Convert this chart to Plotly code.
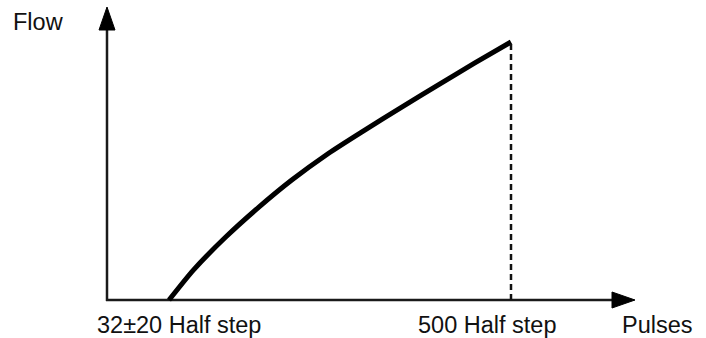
import plotly.graph_objects as go

# Data: pulses in half steps, flow in % of max
pulses = [32, 65, 110, 155, 200, 250, 295, 355, 400, 450, 500]
flow = [0, 11.5, 24.5, 36, 46.5, 56.8, 65, 75.5, 83.3, 91.8, 100]
tick_vals = [32, 500]
tick_labels = ["32\u00b120 Half step", "500 Half step"]
x_title = "Pulses"
y_title = "Flow"
max_pulse = 500
max_flow = 100

W, H = 706, 338
FONT = dict(family="Liberation Sans, Arial, sans-serif", size=23.5, color="#111111")
LABEL_SHIFTS = [10, -24]

fig = go.Figure()

# curve
fig.add_trace(go.Scatter(
    x=pulses, y=flow, mode="lines",
    line=dict(color="#000000", width=5, shape="spline", smoothing=0.6),
    hoverinfo="skip", showlegend=False,
))
# dashed limit
fig.add_trace(go.Scatter(
    x=[max_pulse, max_pulse], y=[0, max_flow], mode="lines",
    line=dict(color="#111111", width=2.5, dash="6px,4px"),
    hoverinfo="skip", showlegend=False,
))


def px(x):
    return x / W


def py(y):
    return 1 - y / H


axis_col = "#1a1a1a"
# y axis line
fig.add_shape(type="line", xref="paper", yref="paper",
              x0=px(107), y0=py(301), x1=px(107), y1=py(25),
              line=dict(color=axis_col, width=2.5), layer="below")
# x axis line
fig.add_shape(type="line", xref="paper", yref="paper",
              x0=px(106), y0=py(300), x1=px(615), y1=py(300),
              line=dict(color=axis_col, width=2.5), layer="below")
# arrowheads
fig.add_shape(type="path", xref="paper", yref="paper",
              path=f"M {px(99)} {py(30)} L {px(107)} {py(7)} L {px(115)} {py(30)} Z",
              fillcolor="#000000", line=dict(color="#000000", width=1))
fig.add_shape(type="path", xref="paper", yref="paper",
              path=f"M {px(612)} {py(292)} L {px(635)} {py(300)} L {px(612)} {py(308)} Z",
              fillcolor="#000000", line=dict(color="#000000", width=1))

# tick labels
for v, t, s in zip(tick_vals, tick_labels, LABEL_SHIFTS):
    fig.add_annotation(x=v, xref="x", y=py(325), yref="paper", text=t, xshift=s,
                       showarrow=False, font=FONT, xanchor="center", yanchor="middle")
fig.add_annotation(x=px(657), xref="paper", y=py(325), yref="paper", text=x_title,
                   showarrow=False, font=FONT, xanchor="center", yanchor="middle")
fig.add_annotation(x=px(11), xref="paper", y=py(22), yref="paper", text=y_title,
                   showarrow=False, font=FONT, xanchor="left", yanchor="middle")

# map: pulse 32 -> px 169, pulse 500 -> px 511 ; flow 0 -> py 300, flow 100 -> py 42
sx = (511 - 169) / (max_pulse - 32)
sy = (300 - 42) / max_flow
x_range = [32 - 169 / sx, 32 + (W - 169) / sx]
y_range = [-(H - 300) / sy, 300 / sy]

fig.update_layout(
    width=W, height=H,
    margin=dict(l=0, r=0, t=0, b=0),
    paper_bgcolor="white", plot_bgcolor="white",
    xaxis=dict(range=x_range, visible=False, fixedrange=True),
    yaxis=dict(range=y_range, visible=False, fixedrange=True),
    showlegend=False,
)

fig.write_html("out.html", config={"displayModeBar": False},
               post_script="document.body.style.margin='0px';document.body.style.overflow='hidden';")
